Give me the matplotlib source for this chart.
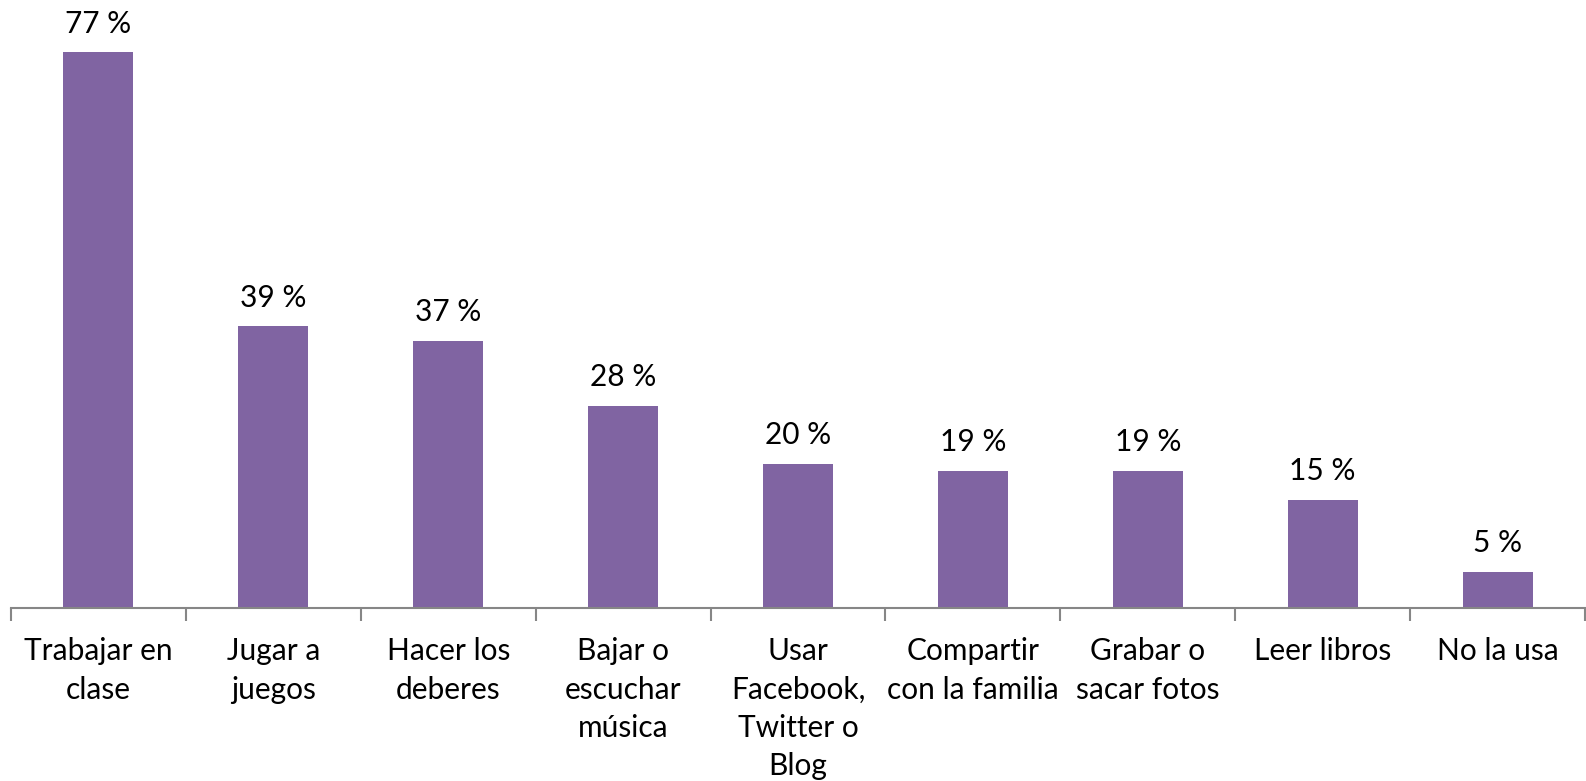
import matplotlib.pyplot as plt
import numpy as np

categories = ["Trabajar en\nclase", "Jugar a\njuegos", "Hacer los\ndeberes",
              "Bajar o\nescuchar\nmúsica", "Usar\nFacebook,\nTwitter o\nBlog",
              "Compartir\ncon la familia", "Grabar o\nsacar fotos", "Leer libros",
              "No la usa"]
values = [77, 39, 37, 28, 20, 19, 19, 15, 5]

plt.rcParams['font.family'] = ['Lato', 'DejaVu Sans']

fig = plt.figure(figsize=(15.86, 7.81), dpi=100)
ax = fig.add_axes([11 / 1586, (781 - 608) / 781, 1574 / 1586, 608 / 781])

x = np.arange(len(values))
ax.bar(x, values, width=0.4, color='#8064A2')
for xi, v in zip(x, values):
    ax.text(xi, v + 2.0, '{0} %'.format(v), ha='center', va='bottom', fontsize=21.5)

ax.set_xlim(-0.5, len(values) - 0.5)
ax.set_ylim(0, 84.2)
ax.set_yticks([])
for s in ['top', 'right', 'left']:
    ax.spines[s].set_visible(False)
ax.spines['bottom'].set_color('#868686')
ax.spines['bottom'].set_linewidth(1.5)

ax.set_xticks(np.arange(len(values) + 1) - 0.5)
ax.set_xticklabels([])
ax.set_xticks(x, minor=True)
ax.set_xticklabels(categories, minor=True, fontsize=21.5, linespacing=1.45, va='top')
ax.tick_params(axis='x', which='major', length=9, width=1.5, color='#868686')
ax.tick_params(axis='x', which='minor', length=0, pad=21)

fig.savefig('out.png', dpi=100)
